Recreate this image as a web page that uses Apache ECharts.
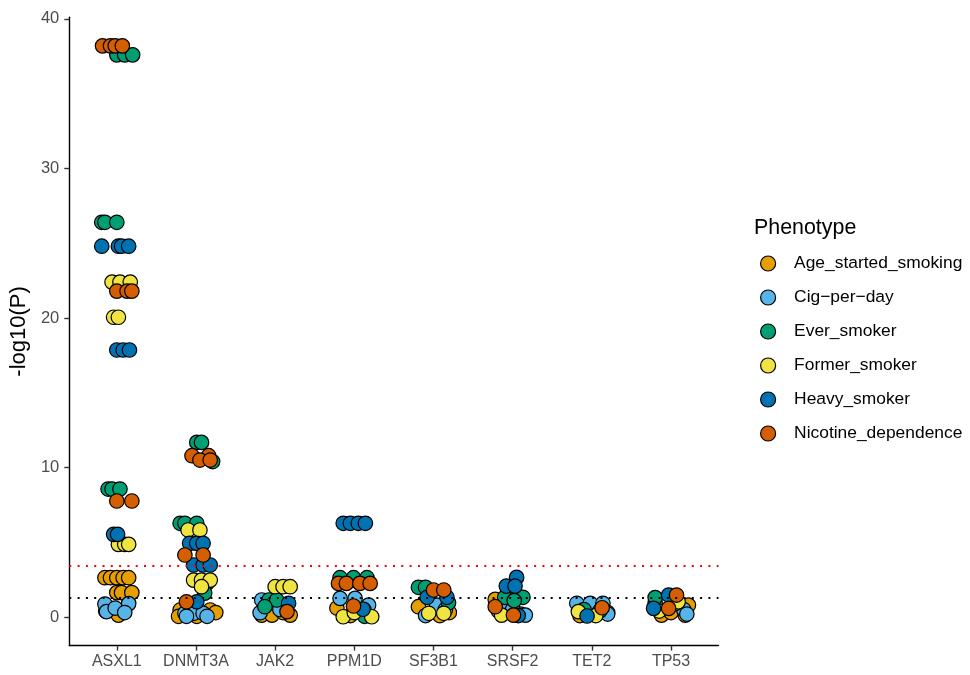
<!DOCTYPE html>
<html>
<head>
<meta charset="utf-8">
<title>Smoking phenotypes: -log10(P) by gene</title>
<script src="https://cdn.jsdelivr.net/npm/echarts@6/dist/echarts.min.js"></script>
<style>
  html, body { margin: 0; padding: 0; background: #ffffff; }
  #chart { width: 970px; height: 675px; }
</style>
</head>
<body>
<div id="chart"></div>
<script>
// Genes on the x axis, in plotting order
const genes = ['ASXL1', 'DNMT3A', 'JAK2', 'PPM1D', 'SF3B1', 'SRSF2', 'TET2', 'TP53'];

// Phenotype names as shown in the legend, with their fill colours
const phenotypes = ['Age_started_smoking', 'Cig\u2212per\u2212day', 'Ever_smoker',
                    'Former_smoker', 'Heavy_smoker', 'Nicotine_dependence'];
const phenoColors = ['#E69F00', '#56B4E9', '#009E73', '#F0E442', '#0072B2', '#D55E00'];

// Y-axis tick values and significance thresholds
const yTicks = [0, 10, 20, 30, 40];
const nominalLine = 1.30;      // -log10(0.05)
const correctedLine = 3.41;    // multiple-testing threshold

// Each point: [gene, horizontal jitter within the gene's band, -log10(P)]
const ageStarted = [
  ['ASXL1', -0.15, 2.63], ['ASXL1', -0.08, 2.63], ['ASXL1', 0.00, 2.63], ['ASXL1', 0.08, 2.63], ['ASXL1', 0.15, 2.63],
  ['ASXL1', 0.00, 1.63], ['ASXL1', 0.06, 1.63], ['ASXL1', 0.19, 1.63], ['ASXL1', 0.02, 0.13], ['ASXL1', -0.14, 0.40],
  ['DNMT3A', -0.20, 0.47], ['DNMT3A', 0.18, 0.47], ['DNMT3A', 0.25, 0.30], ['DNMT3A', 0.01, 0.05], ['DNMT3A', -0.22, 0.05],
  ['JAK2', -0.17, 0.13], ['JAK2', -0.04, 0.13], ['JAK2', 0.19, 0.13], ['JAK2', 0.10, 0.30],
  ['PPM1D', -0.22, 0.60], ['PPM1D', -0.05, 0.10], ['PPM1D', 0.12, 0.30],
  ['SF3B1', -0.19, 0.69], ['SF3B1', 0.08, 0.10], ['SF3B1', 0.20, 0.30],
  ['SRSF2', -0.22, 1.18], ['SRSF2', -0.18, 0.40], ['SRSF2', 0.10, 0.20],
  ['TET2', 0.04, 0.20], ['TET2', -0.15, 0.10], ['TET2', 0.20, 0.30],
  ['TP53', -0.12, 0.13], ['TP53', 0.18, 0.13], ['TP53', 0.00, 0.30], ['TP53', 0.22, 0.80]
];
const cigPerDay = [
  ['ASXL1', -0.15, 0.87], ['ASXL1', 0.15, 0.90], ['ASXL1', -0.13, 0.36], ['ASXL1', -0.02, 0.60], ['ASXL1', 0.10, 0.30],
  ['DNMT3A', -0.14, 0.25], ['DNMT3A', -0.03, 0.25], ['DNMT3A', 0.09, 0.25], ['DNMT3A', -0.12, 0.05], ['DNMT3A', 0.14, 0.05],
  ['JAK2', -0.17, 1.14], ['JAK2', -0.19, 0.29], ['JAK2', 0.06, 0.50],
  ['PPM1D', -0.18, 1.25], ['PPM1D', 0.01, 1.25], ['PPM1D', 0.18, 0.80], ['PPM1D', 0.12, 0.50],
  ['SF3B1', 0.04, 0.80], ['SF3B1', -0.10, 0.10], ['SF3B1', 0.15, 0.50],
  ['SRSF2', -0.08, 0.80], ['SRSF2', 0.16, 0.13], ['SRSF2', 0.00, 0.50],
  ['TET2', -0.19, 0.92], ['TET2', -0.02, 0.92], ['TET2', 0.14, 0.92], ['TET2', 0.20, 0.20],
  ['TP53', 0.16, 0.50], ['TP53', -0.20, 0.90], ['TP53', 0.20, 0.20]
];
const everSmoker = [
  ['ASXL1', 0.00, 37.6], ['ASXL1', 0.10, 37.6], ['ASXL1', 0.20, 37.6],
  ['ASXL1', -0.19, 26.4], ['ASXL1', -0.15, 26.4], ['ASXL1', 0.00, 26.4],
  ['ASXL1', -0.11, 8.56], ['ASXL1', -0.06, 8.56], ['ASXL1', 0.04, 8.56],
  ['DNMT3A', 0.01, 11.68], ['DNMT3A', 0.07, 11.68], ['DNMT3A', 0.21, 10.4],
  ['DNMT3A', -0.20, 6.27], ['DNMT3A', -0.14, 6.27], ['DNMT3A', 0.01, 6.27],
  ['DNMT3A', 0.14, 2.27], ['DNMT3A', 0.11, 1.60],
  ['JAK2', -0.08, 1.14], ['JAK2', 0.02, 1.14], ['JAK2', -0.13, 0.69],
  ['PPM1D', -0.18, 2.63], ['PPM1D', -0.01, 2.63], ['PPM1D', 0.16, 2.63], ['PPM1D', 0.13, 0.05],
  ['SF3B1', -0.19, 1.99], ['SF3B1', -0.10, 1.99], ['SF3B1', 0.19, 0.96],
  ['SRSF2', -0.10, 1.32], ['SRSF2', 0.13, 1.32], ['SRSF2', 0.02, 1.10],
  ['TET2', -0.10, 0.50], ['TET2', 0.10, 0.40],
  ['TP53', -0.20, 1.30], ['TP53', 0.05, 0.90]
];
const formerSmoker = [
  ['ASXL1', -0.06, 22.4], ['ASXL1', 0.04, 22.4], ['ASXL1', 0.17, 22.4],
  ['ASXL1', -0.04, 20.05], ['ASXL1', 0.02, 20.05],
  ['ASXL1', 0.02, 4.86], ['ASXL1', 0.10, 4.86], ['ASXL1', 0.15, 4.86],
  ['DNMT3A', -0.10, 5.82], ['DNMT3A', 0.05, 5.82],
  ['DNMT3A', -0.03, 2.47], ['DNMT3A', 0.07, 2.47], ['DNMT3A', 0.18, 2.47], ['DNMT3A', 0.07, 2.03],
  ['JAK2', 0.00, 2.03], ['JAK2', 0.10, 2.03], ['JAK2', 0.19, 2.03],
  ['PPM1D', -0.14, 0.02], ['PPM1D', 0.22, 0.02], ['PPM1D', 0.00, 0.30],
  ['SF3B1', -0.06, 0.25], ['SF3B1', 0.13, 0.25],
  ['SRSF2', -0.14, 0.13],
  ['TET2', -0.17, 0.36], ['TET2', 0.05, 0.10],
  ['TP53', 0.09, 1.02], ['TP53', -0.15, 0.40]
];
const heavySmoker = [
  ['ASXL1', -0.19, 24.8], ['ASXL1', 0.02, 24.8], ['ASXL1', 0.06, 24.8], ['ASXL1', 0.15, 24.8],
  ['ASXL1', 0.00, 17.86], ['ASXL1', 0.08, 17.86], ['ASXL1', 0.16, 17.86],
  ['ASXL1', -0.04, 5.53], ['ASXL1', 0.01, 5.53],
  ['DNMT3A', -0.08, 4.93], ['DNMT3A', 0.01, 4.93], ['DNMT3A', 0.09, 4.93],
  ['DNMT3A', -0.03, 3.48], ['DNMT3A', 0.09, 3.48], ['DNMT3A', 0.18, 3.48], ['DNMT3A', 0.01, 1.02],
  ['JAK2', 0.17, 0.92],
  ['PPM1D', -0.14, 6.27], ['PPM1D', -0.05, 6.27], ['PPM1D', 0.05, 6.27], ['PPM1D', 0.14, 6.27], ['PPM1D', 0.11, 0.52],
  ['SF3B1', -0.08, 1.32], ['SF3B1', 0.17, 1.32],
  ['SRSF2', 0.05, 2.65], ['SRSF2', -0.08, 2.07], ['SRSF2', 0.03, 2.07], ['SRSF2', 0.07, 0.10],
  ['TET2', -0.06, 0.07],
  ['TP53', -0.03, 1.47], ['TP53', -0.22, 0.58]
];
const nicotineDependence = [
  ['ASXL1', -0.18, 38.2], ['ASXL1', -0.08, 38.2], ['ASXL1', -0.02, 38.2], ['ASXL1', 0.07, 38.2],
  ['ASXL1', 0.00, 21.8], ['ASXL1', 0.13, 21.8], ['ASXL1', 0.19, 21.8],
  ['ASXL1', 0.00, 7.76], ['ASXL1', 0.19, 7.76],
  ['DNMT3A', -0.05, 10.79], ['DNMT3A', 0.16, 10.79], ['DNMT3A', 0.05, 10.5], ['DNMT3A', 0.18, 10.5],
  ['DNMT3A', -0.14, 4.15], ['DNMT3A', 0.09, 4.15], ['DNMT3A', -0.12, 1.02],
  ['JAK2', 0.15, 0.36],
  ['PPM1D', -0.20, 2.25], ['PPM1D', -0.10, 2.25], ['PPM1D', 0.07, 2.25], ['PPM1D', 0.20, 2.25], ['PPM1D', -0.01, 0.74],
  ['SF3B1', 0.00, 1.81], ['SF3B1', 0.13, 1.81],
  ['SRSF2', -0.22, 0.69], ['SRSF2', 0.01, 0.13],
  ['TET2', 0.13, 0.62],
  ['TP53', 0.07, 1.47], ['TP53', -0.03, 0.58]
];

const pointSets = [ageStarted, cigPerDay, everSmoker, formerSmoker, heavySmoker, nicotineDependence];

// Convert [gene, jitter, value] into numeric x positions (genes sit at 1..8)
function toXY(rows) {
  return rows.map(r => [genes.indexOf(r[0]) + 1 + r[1], r[2]]);
}

const FONT = '"Liberation Sans", Arial, Helvetica, sans-serif';

const series = phenotypes.map((name, i) => ({
  name: name,
  type: 'scatter',
  data: toXY(pointSets[i]),
  symbol: 'circle',
  symbolSize: 14.5,
  itemStyle: { color: phenoColors[i], borderColor: '#000000', borderWidth: 1.2, opacity: 1 },
  emphasis: { disabled: true },
  z: 3
}));

// Dotted threshold lines drawn across the panel, above the points
series.push({
  type: 'line',
  data: [],
  silent: true,
  z: 5,
  markLine: {
    silent: true,
    symbol: 'none',
    z: 5,
    label: { show: false },
    data: [
      { yAxis: correctedLine, lineStyle: { color: '#ff0000', type: [2, 6.3], width: 2, cap: 'butt' } },
      { yAxis: nominalLine, lineStyle: { color: '#000000', type: [2, 6.3], width: 2, cap: 'butt' } }
    ]
  }
});

const chart = echarts.init(document.getElementById('chart'), null, { renderer: 'canvas' });
chart.setOption({
  animation: false,
  backgroundColor: '#ffffff',
  textStyle: { fontFamily: FONT },
  grid: { left: 69.3, right: 251.5, top: 17.3, bottom: 29.4, containLabel: false },
  title: {
    text: 'Phenotype',
    left: 749,
    top: 213,
    textStyle: { fontFamily: FONT, fontSize: 21.4, fontWeight: 'normal', color: '#000000' }
  },
  legend: {
    data: phenotypes,
    orient: 'vertical',
    left: 755,
    top: 250,
    itemWidth: 30,
    itemHeight: 15,
    itemGap: 17,
    icon: 'circle',
    selectedMode: false,
    itemStyle: { borderColor: '#000000', borderWidth: 1.2 },
    textStyle: { fontFamily: FONT, fontSize: 17.4, color: '#000000', lineHeight: 14, padding: [0, 0, 0, 6] }
  },
  xAxis: {
    type: 'value',
    min: 0.4,
    max: 8.6,
    splitLine: { show: false },
    axisLine: { show: true, onZero: false, lineStyle: { color: '#000000', width: 1.4 } },
    axisTick: { show: true, customValues: genes.map((g, i) => i + 1), length: 5, lineStyle: { color: '#333333', width: 1.4 } },
    axisLabel: {
      customValues: genes.map((g, i) => i + 1),
      formatter: v => genes[Math.round(v) - 1] || '',
      fontFamily: FONT, fontSize: 16, color: '#4d4d4d', margin: 8
    }
  },
  yAxis: {
    type: 'value',
    min: -1.91,
    max: 40.11,
    name: '-log10(P)',
    nameLocation: 'middle',
    nameGap: 36,
    nameTextStyle: { fontFamily: FONT, fontSize: 22, color: '#000000' },
    splitLine: { show: false },
    axisLine: { show: true, onZero: false, lineStyle: { color: '#000000', width: 1.4 } },
    axisTick: { show: true, customValues: yTicks, length: 5, lineStyle: { color: '#333333', width: 1.4 } },
    axisLabel: { customValues: yTicks, fontFamily: FONT, fontSize: 16.5, color: '#4d4d4d', margin: 10 }
  },
  series: series
});
</script>
</body>
</html>
